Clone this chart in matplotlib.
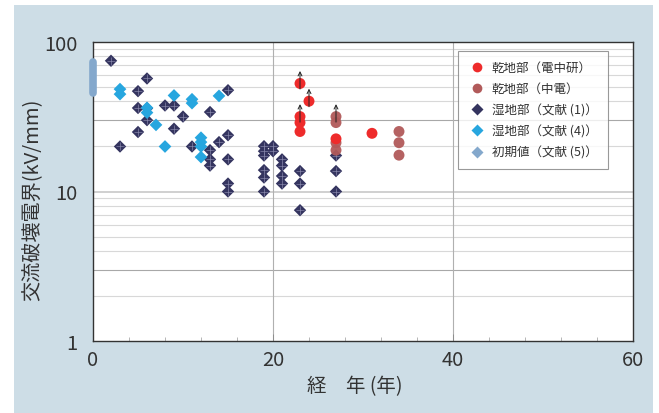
import matplotlib
matplotlib.use("Agg")
import numpy as np
import matplotlib.pyplot as plt
from matplotlib.lines import Line2D
from matplotlib.patches import Rectangle
from matplotlib.ticker import FixedLocator, MultipleLocator, NullFormatter
from matplotlib.transforms import offset_copy

plt.rcParams['font.family'] = ['Noto Sans CJK JP', 'DejaVu Sans']

# 乾地部 (電中研)
dry_crl_x = [23, 24, 23, 23, 23, 27, 31]
dry_crl_y = [52.8, 40.2, 31.7, 28.9, 25.2, 22.5, 24.5]
dry_crl_arrow = [True, True, True, False, False, False, False]

# 乾地部 (中電)
dry_chu_x = [27, 27, 27, 27, 34, 34, 34]
dry_chu_y = [31.7, 28.9, 21.2, 18.9, 25.2, 21.2, 17.5]
dry_chu_arrow = [True, False, False, False, False, False, False]

# 湿地部 (文献(1))
wet1_x = [2, 6, 5, 15, 5, 6, 8, 9, 6, 10, 13, 5, 9, 3, 11, 14, 15, 13, 13, 13,
          15, 15, 15, 19, 19, 19, 20, 20, 19, 19, 19, 21, 21, 21, 21,
          23, 23, 23, 27, 27, 27]
wet1_y = [74.9, 57, 46.9, 47.6, 36.2, 36, 37.6, 37.6, 30, 31.7, 34, 25, 26.3, 20, 20, 21.4,
          23.8, 18.9, 16.4, 14.9, 16.4, 11.3, 10, 20.1, 18.6, 17.4, 20.1, 18.6, 13.9, 12.4,
          10, 16.4, 14.9, 12.7, 11.3, 13.7, 11.3, 7.5, 13.7, 10, 17.4]

# 湿地部 (文献(4))
wet4_x = [3, 3, 6, 6, 9, 11, 11, 14, 7, 8, 12, 12, 12, 12]
wet4_y = [48.4, 44.8, 36.3, 33.7, 43.9, 41.4, 39, 43.6, 27.9, 20, 22.9, 21.4, 20, 17]

# 初期値 (文献(5)) - range of initial values
init_x = [0, 0]
init_y = [45.5, 74.0]

labels = ['乾地部（電中研）', '乾地部（中電）', '湿地部（文献 (1)）', '湿地部（文献 (4)）', '初期値（文献 (5)）']
x_ticks = [0, 20, 40, 60]
y_ticks = [1, 10, 100]

c_red = '#ee2b2b'
c_brown = '#b15a5a'
c_navy = '#34345f'
c_cyan = '#27a6df'
c_init = '#84a8cc'

fig = plt.figure(figsize=(6.59, 4.14), dpi=100)
fig.patch.set_facecolor('white')
fig.patches.append(Rectangle((14 / 659, 0), 639 / 659, 408 / 414, transform=fig.transFigure,
                             facecolor='#cddde6', edgecolor='none', zorder=-10))

ax = fig.add_axes([93 / 659, 1 - 342 / 414, 540 / 659, 299 / 414])
ax.set_facecolor('white')
ax.set_yscale('log')
ax.set_xlim(0, 60)
ax.set_ylim(1, 100)

# grid
for v in [2, 4, 5, 6, 7, 8, 9, 20, 40, 50, 60, 70, 80, 90]:
    ax.axhline(v, color='#d8d8d8', lw=0.8, zorder=1)
for v in [3, 30]:
    ax.axhline(v, color='#a8a8a8', lw=0.8, zorder=1)
ax.axhline(10, color='#c8c8c8', lw=1.2, zorder=1)
for v in [20, 40]:
    ax.axvline(v, color='#b0b0b0', lw=0.8, zorder=1)

ax.yaxis.set_major_locator(FixedLocator(y_ticks))
ax.yaxis.set_minor_locator(FixedLocator([]))
ax.yaxis.set_minor_formatter(NullFormatter())
ax.set_yticklabels([str(t) for t in y_ticks])
ax.xaxis.set_major_locator(FixedLocator(x_ticks))
ax.xaxis.set_minor_locator(MultipleLocator(4))
ax.tick_params(axis='both', which='major', labelsize=14.5, labelcolor='#333333')
ax.tick_params(axis='x', which='major', direction='in', length=5, width=0.6, color='#888888', pad=6)
ax.tick_params(axis='x', which='minor', direction='in', length=3, width=0.6, color='#aaaaaa')
ax.tick_params(axis='y', which='major', length=0, pad=11)
for sp in ax.spines.values():
    sp.set_color('#333333')
    sp.set_linewidth(1.0)

ax.set_xlabel('経\u3000年 (年)', fontsize=14, color='#333333')
ax.xaxis.set_label_coords(0.485, -0.115)
ax.set_ylabel('交流破壊電界(kV/mm)', fontsize=14.5, color='#333333')
ax.yaxis.set_label_coords(-0.092, 0.475)

# initial values bar
ax.plot(init_x, init_y, color=c_init, lw=5.5, solid_capstyle='round', zorder=3, clip_on=False)
ax.scatter(wet1_x, wet1_y, marker='D', s=40, color=c_navy, edgecolors='none', zorder=4)
ax.scatter(wet1_x, wet1_y, marker='+', s=30, color='#8484a8', linewidths=0.5, zorder=4.5)
ax.scatter(wet4_x, wet4_y, marker='D', s=42, color=c_cyan, edgecolors='none', zorder=5)
ax.scatter(dry_chu_x, dry_chu_y, marker='o', s=62, color=c_brown, edgecolors='none',
           alpha=0.95, zorder=6)
ax.scatter(dry_crl_x, dry_crl_y, marker='o', s=62, color=c_red, edgecolors='none', zorder=7)

# "more than" arrows
tip = offset_copy(ax.transData, fig=fig, x=0, y=9, units='points')
tail = offset_copy(ax.transData, fig=fig, x=0, y=-4, units='points')
for xs, ys, flags in [(dry_crl_x, dry_crl_y, dry_crl_arrow), (dry_chu_x, dry_chu_y, dry_chu_arrow)]:
    for x, y, f in zip(xs, ys, flags):
        if f:
            ax.annotate('', xy=(x, y), xycoords=tip, xytext=(x, y), textcoords=tail,
                        arrowprops=dict(arrowstyle='->', color='#222222', lw=0.7,
                                        mutation_scale=7, shrinkA=0, shrinkB=0),
                        zorder=8)

handles = [
    Line2D([], [], ls='none', marker='o', ms=7, color=c_red, mec='none'),
    Line2D([], [], ls='none', marker='o', ms=7, color=c_brown, mec='none'),
    Line2D([], [], ls='none', marker='D', ms=6, color=c_navy, mec='none'),
    Line2D([], [], ls='none', marker='D', ms=6, color=c_cyan, mec='none'),
    Line2D([], [], ls='none', marker='D', ms=6, color=c_init, mec='none'),
]
leg = ax.legend(handles, labels,
                loc='upper left', bbox_to_anchor=((458 - 93) / 540, 1 - (52 - 43) / 299),
                fontsize=9, frameon=True, fancybox=False, edgecolor='#808080',
                borderpad=0.8, labelspacing=0.65, handletextpad=0.5, borderaxespad=0,
                handlelength=1.4)
leg.get_frame().set_linewidth(0.8)
for t in leg.get_texts():
    t.set_color('#333333')

fig.savefig('out.png', dpi=100, facecolor=fig.get_facecolor())
